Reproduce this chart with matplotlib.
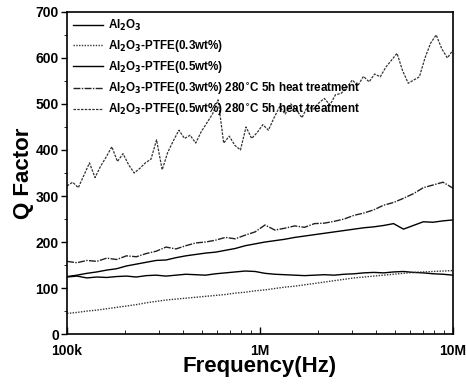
import numpy as np
import matplotlib
matplotlib.use("Agg")
import matplotlib.pyplot as plt
from matplotlib.ticker import FixedLocator, LogLocator, MultipleLocator, NullFormatter

plt.rcParams['font.family'] = ['Liberation Sans', 'DejaVu Sans']
plt.rcParams['font.weight'] = 'bold'
plt.rcParams['mathtext.default'] = 'bf'

# Q factor readings
q_al2o3 = [124, 126, 122, 124, 123, 125, 126, 124, 127, 128, 126, 128, 130, 129, 128, 131,
           133, 135, 137, 136, 132, 130, 129, 128, 127, 128, 129, 128, 130, 131, 133, 134,
           133, 135, 136, 134, 133, 131, 130, 128]
q_ptfe03 = [45, 47, 50, 52, 55, 58, 61, 64, 68, 71, 74, 76, 78, 80, 82, 84, 86, 89, 91, 94,
            96, 99, 102, 104, 107, 110, 113, 116, 119, 122, 124, 126, 128, 130, 132, 134,
            135, 136, 137, 138]
q_ptfe05 = [125, 128, 132, 135, 139, 142, 148, 152, 156, 160, 161, 166, 170, 173, 176, 178,
            182, 186, 192, 196, 200, 203, 206, 210, 213, 216, 219, 222, 225, 228, 231, 233,
            236, 240, 228, 236, 244, 243, 246, 248]
q_ptfe03_ht = [158, 155, 160, 158, 165, 162, 170, 168, 175, 180, 189, 185, 192, 198, 200, 204,
               210, 207, 215, 222, 237, 226, 230, 235, 232, 240, 241, 245, 250, 258, 263, 270,
               280, 286, 295, 305, 318, 324, 330, 317]
q_ptfe05_ht = [322, 330, 318, 345, 372, 340, 365, 385, 407, 375, 392, 368, 350, 360, 372, 380,
               422, 357, 395, 420, 443, 425, 432, 415, 440, 459, 478, 509, 415, 430, 410, 400,
               450, 425, 438, 455, 443, 470, 494, 478, 500, 487, 470, 495, 488, 502, 512, 498,
               520, 523, 535, 552, 540, 560, 548, 565, 559, 580, 595, 610, 572, 545, 552, 559,
               600, 632, 650, 620, 600, 617]

labels = ['Al$_2$O$_3$',
          'Al$_2$O$_3$-PTFE(0.3wt%)',
          'Al$_2$O$_3$-PTFE(0.5wt%)',
          'Al$_2$O$_3$-PTFE(0.3wt%) 280$^{\\circ}$C 5h heat treatment',
          'Al$_2$O$_3$-PTFE(0.5wt%) 280$^{\\circ}$C 5h heat treatment']

f40 = np.logspace(5, 7, len(q_al2o3))
f70 = np.logspace(5, 7, len(q_ptfe05_ht))

fig = plt.figure(figsize=(4.66, 3.84), dpi=100)
ax = fig.add_axes([0.144, 0.130, 0.828, 0.839])

ax.plot(f40, q_al2o3, color='black', lw=1.0, ls='-', label=labels[0])
ax.plot(f40, q_ptfe03, color='#333333', lw=1.0, ls=(0, (1, 1)), label=labels[1])
ax.plot(f40, q_ptfe05, color='black', lw=1.0, ls='-', label=labels[2])
ax.plot(f40, q_ptfe03_ht, color='#222222', lw=1.0, ls=(0, (5, 1, 1, 1)), label=labels[3])
ax.plot(f70, q_ptfe05_ht, color='#333333', lw=0.9, ls=(0, (2, 1)), label=labels[4])

ax.set_xscale('log')
ax.set_xlim(1e5, 1e7)
ax.set_ylim(0, 700)
ax.xaxis.set_major_locator(FixedLocator([1e5, 1e6, 1e7]))
ax.set_xticklabels(['100k', '1M', '10M'])
ax.xaxis.set_minor_locator(LogLocator(base=10, subs=np.arange(2, 10)))
ax.xaxis.set_minor_formatter(NullFormatter())
ax.yaxis.set_major_locator(MultipleLocator(100))
ax.yaxis.set_minor_locator(MultipleLocator(50))

ax.tick_params(axis='x', which='both', direction='in', labelsize=10, pad=7)
ax.tick_params(axis='x', which='major', length=5, width=1)
ax.tick_params(axis='x', which='minor', length=3)
ax.tick_params(axis='y', which='both', direction='out', labelsize=10, pad=2)
ax.tick_params(axis='y', which='major', length=4, width=1)
ax.tick_params(axis='y', which='minor', length=2)
for s in ax.spines.values():
    s.set_linewidth(1.2)

ax.set_xlabel('Frequency(Hz)', fontsize=16, fontweight='bold', labelpad=-1)
ax.set_ylabel('Q Factor', fontsize=16, fontweight='bold', labelpad=1)

ax.legend(loc='upper left', frameon=False, fontsize=8.4, handlelength=2.6,
          handletextpad=0.4, labelspacing=0.45, borderaxespad=0.1)

fig.savefig('out.png', dpi=100)
